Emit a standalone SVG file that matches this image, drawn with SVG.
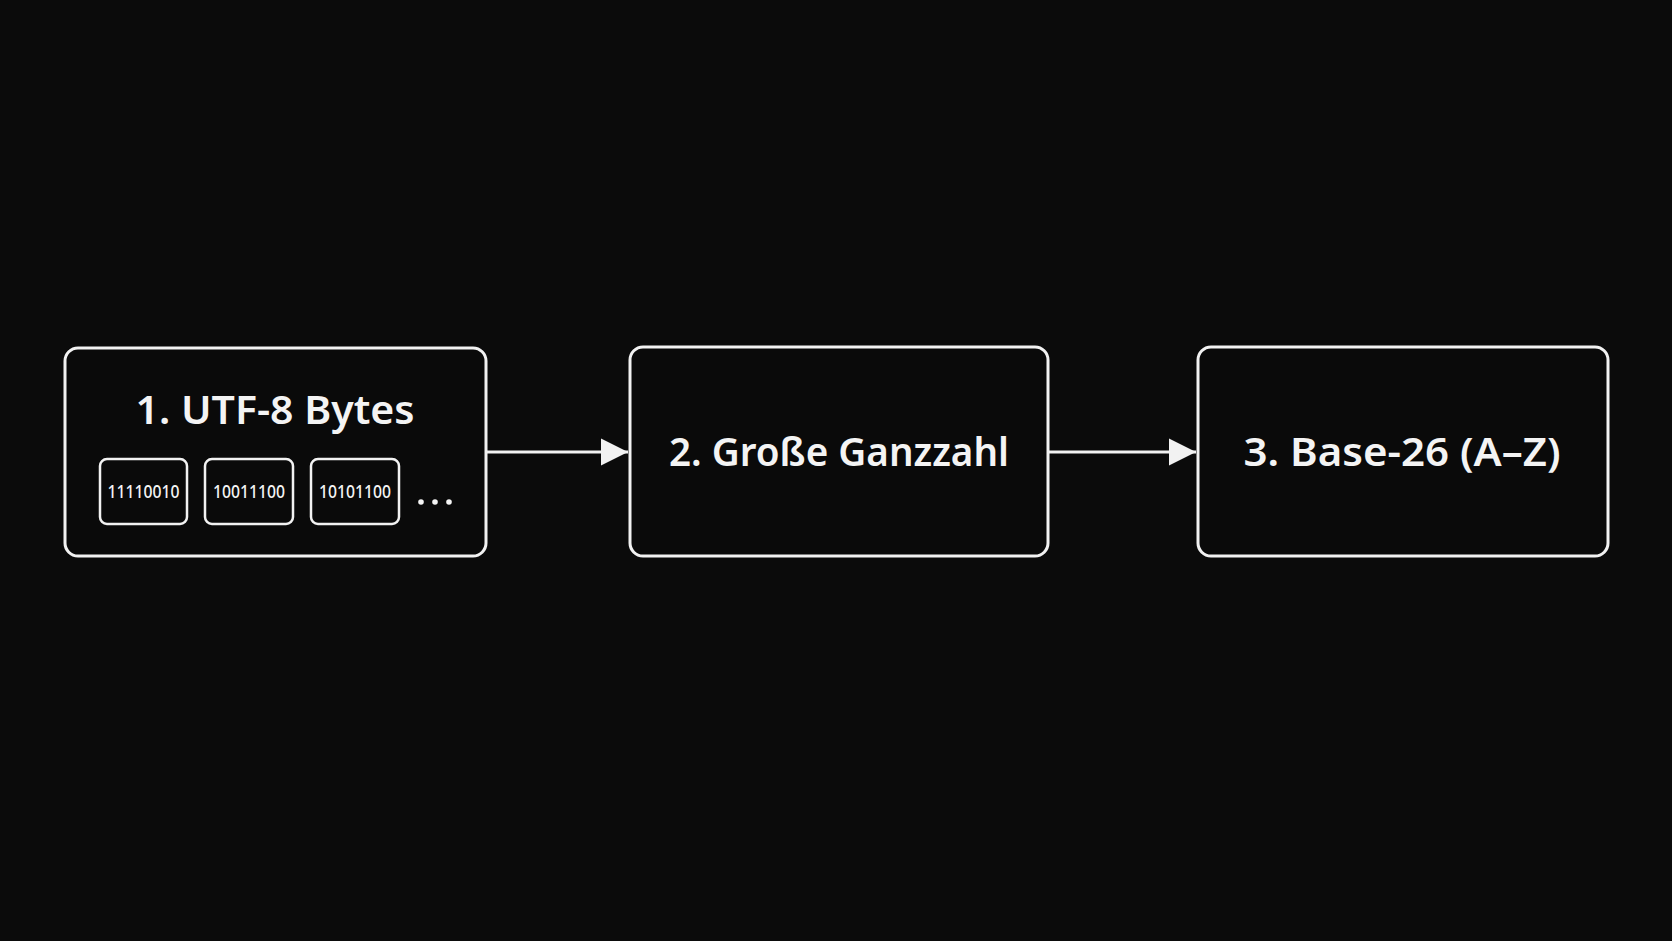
<svg xmlns="http://www.w3.org/2000/svg" width="1672" height="941" viewBox="0 0 1672 941">
<style>
.box{fill:#0a0a0a;stroke:#f2f2f2;stroke-width:3}
.byte{fill:#0a0a0a;stroke:#f2f2f2;stroke-width:2.5}
.title{font-family:"Noto Sans","Open Sans",sans-serif;font-weight:600;font-size:40px;fill:#f4f4f4;text-anchor:middle}
.bt{font-family:"Noto Sans","Open Sans",sans-serif;font-weight:500;font-size:18px;fill:#f4f4f4;text-anchor:middle}
.conn{stroke:#f2f2f2;stroke-width:3;fill:none}
</style>
<defs>
<marker id="arr" markerUnits="userSpaceOnUse" markerWidth="28" markerHeight="28" refX="27" refY="14" orient="auto">
<path d="M0,0.5 L27,14 L0,27.5 Z" fill="#f2f2f2"/>
</marker>
</defs>
<rect width="1672" height="941" fill="#0b0b0b"/>
<g id="connectors">
<line class="conn" x1="486" y1="452" x2="628" y2="452" marker-end="url(#arr)"/>
<line class="conn" x1="1048" y1="452" x2="1196" y2="452" marker-end="url(#arr)"/>
</g>
<g id="node1">
<rect class="box" x="65" y="348" width="421" height="208" rx="13"/>
<text class="title" x="275" y="424" textLength="279" lengthAdjust="spacingAndGlyphs">1. UTF-8 Bytes</text>
<rect class="byte" x="100" y="459" width="87" height="65" rx="7"/>
<text class="bt" x="143.5" y="498" textLength="72" lengthAdjust="spacingAndGlyphs">11110010</text>
<rect class="byte" x="205" y="459" width="88" height="65" rx="7"/>
<text class="bt" x="249" y="498" textLength="72" lengthAdjust="spacingAndGlyphs">10011100</text>
<rect class="byte" x="311" y="459" width="88" height="65" rx="7"/>
<text class="bt" x="355" y="498" textLength="72" lengthAdjust="spacingAndGlyphs">10101100</text>
<circle cx="421" cy="502" r="2.8" fill="#f4f4f4"/>
<circle cx="435" cy="502" r="2.8" fill="#f4f4f4"/>
<circle cx="449" cy="502" r="2.8" fill="#f4f4f4"/>
</g>
<g id="node2">
<rect class="box" x="630" y="347" width="418" height="209" rx="13"/>
<text class="title" x="839" y="466" textLength="340" lengthAdjust="spacingAndGlyphs">2. Große Ganzzahl</text>
</g>
<g id="node3">
<rect class="box" x="1198" y="347" width="410" height="209" rx="13"/>
<text class="title" x="1402" y="466" textLength="317" lengthAdjust="spacingAndGlyphs">3. Base-26 (A–Z)</text>
</g>
</svg>
